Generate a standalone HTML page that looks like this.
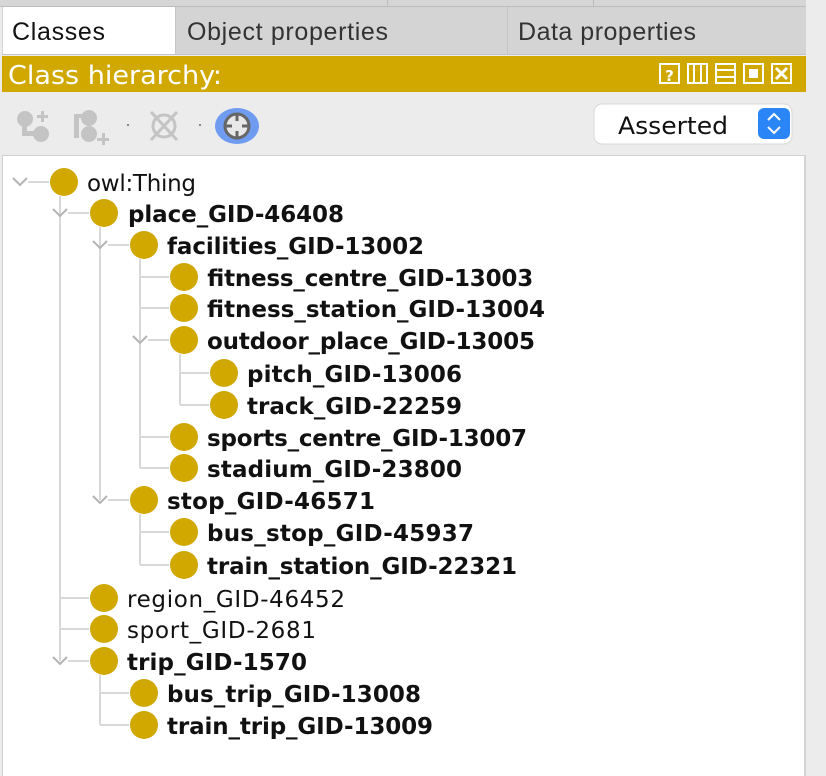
<!DOCTYPE html>
<html><head><meta charset="utf-8"><style>
html,body{margin:0;padding:0;background:#ececec;}
svg{display:block}
</style></head><body>
<svg width="826" height="776" viewBox="0 0 826 776" xmlns="http://www.w3.org/2000/svg">
<rect x="0" y="0" width="826" height="776" fill="#ececec"/>
<rect x="0" y="0" width="806" height="6" fill="#d6d6d6"/>
<line x1="0" y1="6.5" x2="806" y2="6.5" stroke="#bcbcbc"/>
<line x1="387.5" y1="0" x2="387.5" y2="6" stroke="#bcbcbc"/>
<line x1="593.5" y1="0" x2="593.5" y2="6" stroke="#bcbcbc"/>
<rect x="2" y="7" width="804" height="48" fill="#d4d4d4"/>
<rect x="3" y="7" width="172" height="48" fill="#ffffff"/>
<line x1="175.5" y1="7" x2="175.5" y2="55" stroke="#c4c4c4"/>
<line x1="507.5" y1="7" x2="507.5" y2="55" stroke="#c4c4c4"/>
<line x1="2" y1="54.5" x2="806" y2="54.5" stroke="#c4c4c4"/>
<g font-family="Liberation Sans, sans-serif" font-size="25" lengthAdjust="spacingAndGlyphs">
<text x="12" y="40" fill="#111" textLength="93">Classes</text>
<text x="187" y="40" fill="#333" textLength="201">Object properties</text>
<text x="518" y="40" fill="#333" textLength="178">Data properties</text>
</g>
<rect x="2" y="56" width="804" height="36" fill="#d0a800"/>
<text x="8" y="84" font-family="DejaVu Sans Condensed, DejaVu Sans, sans-serif" font-size="26" fill="#fff" textLength="214" lengthAdjust="spacingAndGlyphs">Class hierarchy:</text>
<g fill="none" stroke="#fff" stroke-width="2">
<rect x="660" y="64" width="19" height="19"/>
<rect x="688" y="64" width="19" height="19"/><line x1="694" y1="64" x2="694" y2="83"/><line x1="701" y1="64" x2="701" y2="83"/>
<rect x="716" y="64" width="19" height="19"/><line x1="716" y1="70" x2="735" y2="70"/><line x1="716" y1="77" x2="735" y2="77"/>
<rect x="744" y="64" width="19" height="19"/>
<rect x="772" y="64" width="19" height="19"/>
</g>
<rect x="749" y="69" width="9" height="9" fill="#fff"/>
<text x="669.5" y="81" font-family="DejaVu Sans, sans-serif" font-weight="bold" font-size="15" fill="#fff" text-anchor="middle">?</text>
<path d="M776 68 L787 79 M787 68 L776 79" stroke="#fff" stroke-width="3"/>
<g fill="#c4c4c4">
<circle cx="25" cy="119" r="8"/><circle cx="41" cy="134" r="8"/><rect x="22" y="119" width="5" height="16"/><rect x="22" y="131" width="14" height="5"/>
<rect x="37" y="115" width="11" height="3"/><rect x="41" y="111" width="3" height="11"/>
<circle cx="89" cy="118" r="8"/><circle cx="89" cy="134" r="8"/><rect x="74" y="114" width="5" height="24"/><rect x="74" y="114" width="10" height="4"/>
<rect x="97" y="138" width="12" height="3"/><rect x="102" y="133" width="3" height="12"/>
<rect x="127" y="124" width="2" height="2" fill="#888"/>
<rect x="199" y="124" width="2" height="2" fill="#888"/>
</g>
<g stroke="#c4c4c4" stroke-width="3" fill="none">
<circle cx="164" cy="126" r="11"/><path d="M151 112 L177 140 M177 112 L151 140"/>
</g>
<ellipse cx="237" cy="126" rx="22" ry="18" fill="#6f9bf0"/>
<circle cx="237" cy="126" r="12" fill="#e8e8e8" stroke="#666" stroke-width="3"/>
<path d="M237 114 V121 M237 131 V138 M225 126 H232 M242 126 H249" stroke="#666" stroke-width="3"/>
<rect x="594" y="104" width="198" height="40" rx="8" fill="#fff" stroke="#d8d8d8"/>
<text x="618" y="134" font-family="DejaVu Sans, sans-serif" font-size="24" fill="#111" textLength="110" lengthAdjust="spacingAndGlyphs">Asserted</text>
<rect x="758" y="108" width="32" height="31" rx="6" fill="#2a86f7"/>
<path d="M768 120 L774 114 L780 120 M768 127 L774 133 L780 127" stroke="#fff" stroke-width="2" fill="none"/>
<rect x="2.5" y="155.5" width="802" height="621" fill="#fff" stroke="#d0d0d0"/>
<rect x="804" y="155" width="2" height="621" fill="#d4d4d4"/>
<g stroke="#d8d8d8" stroke-width="2" fill="none">
<line x1="60" y1="196" x2="60" y2="661"/>
<line x1="100" y1="227" x2="100" y2="500"/>
<line x1="140" y1="259" x2="140" y2="468"/>
<line x1="180" y1="354" x2="180" y2="405"/>
<line x1="140" y1="514" x2="140" y2="565"/>
<line x1="100" y1="675" x2="100" y2="725"/>
<line x1="28" y1="182" x2="49" y2="182"/>
<line x1="68" y1="213" x2="89" y2="213"/>
<line x1="108" y1="245" x2="129" y2="245"/>
<line x1="140" y1="277" x2="169" y2="277"/>
<line x1="140" y1="308" x2="169" y2="308"/>
<line x1="148" y1="340" x2="169" y2="340"/>
<line x1="180" y1="373" x2="209" y2="373"/>
<line x1="180" y1="405" x2="209" y2="405"/>
<line x1="140" y1="437" x2="169" y2="437"/>
<line x1="140" y1="468" x2="169" y2="468"/>
<line x1="108" y1="500" x2="129" y2="500"/>
<line x1="140" y1="532" x2="169" y2="532"/>
<line x1="140" y1="565" x2="169" y2="565"/>
<line x1="60" y1="598" x2="89" y2="598"/>
<line x1="60" y1="629" x2="89" y2="629"/>
<line x1="68" y1="661" x2="89" y2="661"/>
<line x1="100" y1="693" x2="129" y2="693"/>
<line x1="100" y1="725" x2="129" y2="725"/>
</g>
<g stroke="#b4b4b4" stroke-width="2" fill="none">
<polyline points="13,178 20,185 27,178"/>
<polyline points="53,209 60,216 67,209"/>
<polyline points="93,241 100,248 107,241"/>
<polyline points="133,336 140,343 147,336"/>
<polyline points="93,496 100,503 107,496"/>
<polyline points="53,657 60,664 67,657"/>
</g>
<g fill="#d0a800">
<circle cx="64" cy="182" r="14"/><circle cx="104" cy="213" r="14"/><circle cx="144" cy="245" r="14"/>
<circle cx="184" cy="277" r="14"/><circle cx="184" cy="308" r="14"/><circle cx="184" cy="340" r="14"/>
<circle cx="224" cy="373" r="14"/><circle cx="224" cy="405" r="14"/>
<circle cx="184" cy="437" r="14"/><circle cx="184" cy="468" r="14"/>
<circle cx="144" cy="500" r="14"/><circle cx="184" cy="532" r="14"/><circle cx="184" cy="565" r="14"/>
<circle cx="104" cy="598" r="14"/><circle cx="104" cy="629" r="14"/><circle cx="104" cy="661" r="14"/>
<circle cx="144" cy="693" r="14"/><circle cx="144" cy="725" r="14"/>
</g>
<g font-family="DejaVu Sans, sans-serif" font-size="23" fill="#111" lengthAdjust="spacingAndGlyphs">
<text x="87" y="191" textLength="109">owl:Thing</text>
<g font-weight="bold">
<text x="128" y="222" textLength="216">place_GID-46408</text>
<text x="167" y="254" textLength="257">facilities_GID-13002</text>
<text x="207" y="286" textLength="326">fitness_centre_GID-13003</text>
<text x="207" y="317" textLength="338">fitness_station_GID-13004</text>
<text x="207" y="349" textLength="328">outdoor_place_GID-13005</text>
<text x="247" y="382" textLength="215">pitch_GID-13006</text>
<text x="247" y="414" textLength="215">track_GID-22259</text>
<text x="207" y="446" textLength="320">sports_centre_GID-13007</text>
<text x="207" y="477" textLength="255">stadium_GID-23800</text>
<text x="167" y="509" textLength="208">stop_GID-46571</text>
<text x="207" y="541" textLength="267">bus_stop_GID-45937</text>
<text x="207" y="574" textLength="310">train_station_GID-22321</text>
</g>
<text x="127" y="607" textLength="218">region_GID-46452</text>
<text x="127" y="638" textLength="189">sport_GID-2681</text>
<text x="127" y="670" textLength="180" font-weight="bold">trip_GID-1570</text>
<text x="167" y="702" textLength="254" font-weight="bold">bus_trip_GID-13008</text>
<text x="167" y="734" textLength="266" font-weight="bold">train_trip_GID-13009</text>
</g>
</svg>
</body></html>
